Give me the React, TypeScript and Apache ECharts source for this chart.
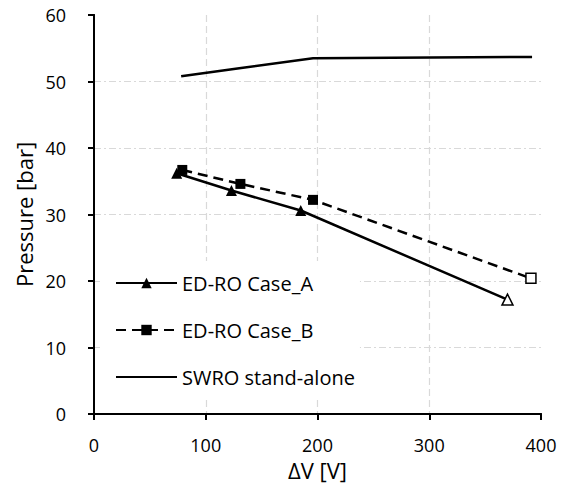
import React, { useEffect, useRef } from "react";
import * as echarts from "echarts";

const caseAX = [74, 123, 185, 370];
const caseAY = [36.2, 33.6, 30.6, 17.2];
const caseBX = [79, 131, 196, 391];
const caseBY = [36.7, 34.6, 32.2, 20.4];
const swroX = [78, 130, 196, 392];
const swroY = [50.8, 52.0, 53.5, 53.7];
const xTicks = [0, 100, 200, 300, 400];
const yTicks = [0, 10, 20, 30, 40, 50, 60];

const FONT = "Open Sans";

function pts(xs: number[], ys: number[], openLast: boolean) {
  return xs.map((x, i) => {
    if (openLast && i === xs.length - 1) {
      return {
        value: [x, ys[i]],
        itemStyle: { color: "#ffffff", borderColor: "#000000", borderWidth: 1.5 },
      };
    }
    return { value: [x, ys[i]] };
  });
}

const X_MIN = xTicks[0];
const X_MAX = xTicks[xTicks.length - 1];
const Y_MIN = yTicks[0];
const Y_MAX = yTicks[yTicks.length - 1];

const blackLine = { show: true, lineStyle: { color: "#000000", width: 2 } };

function gridAxis(kind: "x" | "y", position: string, dash: number[] | null, z: number) {
  return {
    type: "value",
    min: kind === "x" ? X_MIN : Y_MIN,
    max: kind === "x" ? X_MAX : Y_MAX,
    interval: kind === "x" ? 100 : 10,
    position,
    z,
    axisLine: dash ? { show: false } : blackLine,
    axisTick: { show: false },
    axisLabel: { show: false },
    splitLine: dash
      ? {
          show: true,
          showMinLine: false,
          showMaxLine: false,
          lineStyle: { color: "#d9d9d9", width: 1.2, type: dash },
        }
      : { show: false },
  };
}

export default function App() {
  const ref = useRef<HTMLDivElement>(null);
  useEffect(() => {
    const chart = echarts.init(ref.current!, null, { renderer: "svg" });
    chart.setOption({
      animation: false,
      backgroundColor: "#ffffff",
      textStyle: { fontFamily: FONT },
      grid: { left: 94, right: 20, top: 15, bottom: 78, show: false },
      legend: {
        orient: "vertical",
        left: 100,
        top: 261,
        padding: [12, 5, 12, 15],
        backgroundColor: "#ffffff",
        itemWidth: 61,
        itemHeight: 13,
        itemGap: 27,
        z: 3,
        textStyle: { fontFamily: FONT, fontSize: 20, color: "#000000" },
        data: [
          "ED-RO Case_A",
          "ED-RO Case_B",
          {
            name: "SWRO stand-alone",
            itemStyle: { color: "transparent", borderColor: "transparent", borderWidth: 0 },
          },
        ],
      },
      xAxis: [
        {
          type: "value",
          min: X_MIN,
          max: X_MAX,
          interval: 100,
          position: "bottom",
          z: 5,
          name: "ΔV [V]",
          nameLocation: "middle",
          nameGap: 44,
          nameTextStyle: { fontFamily: FONT, fontSize: 22, color: "#000000" },
          axisLine: blackLine,
          axisTick: { show: true, length: 6, lineStyle: { color: "#000000", width: 2 } },
          axisLabel: { fontFamily: FONT, fontSize: 18, color: "#000000", margin: 22 },
          splitLine: { show: false },
        },
        gridAxis("x", "bottom", [7, 4], 1),
        gridAxis("x", "top", null, 5),
      ],
      yAxis: [
        {
          type: "value",
          min: Y_MIN,
          max: Y_MAX,
          interval: 10,
          position: "left",
          z: 5,
          name: "Pressure [bar]",
          nameLocation: "middle",
          nameGap: 58,
          nameTextStyle: { fontFamily: FONT, fontSize: 22, color: "#000000" },
          axisLine: blackLine,
          axisTick: { show: true, length: 6, lineStyle: { color: "#000000", width: 2 } },
          axisLabel: { fontFamily: FONT, fontSize: 18, color: "#000000", margin: 28 },
          splitLine: { show: false },
        },
        gridAxis("y", "left", [7, 3, 2, 3], 1),
        gridAxis("y", "right", null, 5),
      ],
      series: [
        {
          name: "SWRO stand-alone",
          type: "line",
          z: 4,
          data: pts(swroX, swroY, false),
          showSymbol: false,
          symbol: "circle",
          lineStyle: { color: "#000000", width: 2.5 },
          itemStyle: { color: "#000000" },
        },
        {
          name: "ED-RO Case_A",
          type: "line",
          z: 4,
          data: pts(caseAX, caseAY, true),
          symbol: "triangle",
          symbolSize: 11,
          lineStyle: { color: "#000000", width: 2.5 },
          itemStyle: { color: "#000000" },
        },
        {
          name: "ED-RO Case_B",
          type: "line",
          z: 4,
          data: pts(caseBX, caseBY, true),
          symbol: "rect",
          symbolSize: 10,
          lineStyle: { color: "#000000", width: 2.5, type: [10, 6] },
          itemStyle: { color: "#000000" },
        },
      ],
    });
    return () => chart.dispose();
  }, []);
  return (
    <div
      ref={ref}
      style={{ position: "fixed", left: 0, top: 0, width: 561, height: 492 }}
    />
  );
}
